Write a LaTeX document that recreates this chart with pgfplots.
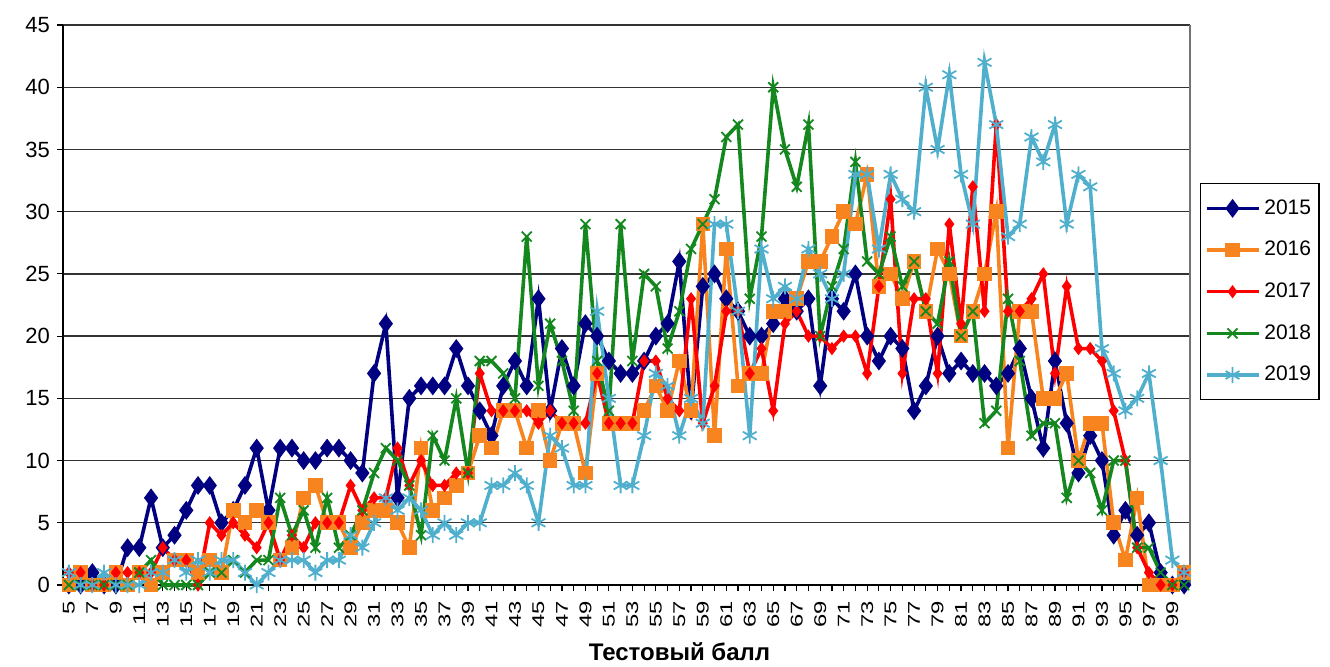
\documentclass[border=0pt]{standalone}
\usepackage{fontspec}
\setmainfont{Liberation Sans}
\usepackage{pgfplots}
\usepackage{pgfplotstable}
\pgfplotsset{compat=1.18}
\definecolor{cA}{RGB}{0,0,128}
\definecolor{cB}{RGB}{247,132,30}
\definecolor{cC}{RGB}{255,0,0}
\definecolor{cD}{RGB}{20,135,30}
\definecolor{cE}{RGB}{80,175,205}
\pgfplotstableread{
x a b c d e
5 0 0 1 0 1
6 0 1 1 0 0
7 1 0 0 0 0
8 0 0 0 0 1
9 0 1 1 0 0
10 3 0 1 0 0
11 3 1 1 1 0
12 7 0 1 2 1
13 3 1 3 0 1
14 4 2 2 0 2
15 6 2 2 0 1
16 8 1 0 0 2
17 8 2 5 1 1
18 5 1 4 1 2
19 6 6 5 2 2
20 8 5 4 1 1
21 11 6 3 2 0
22 6 5 5 2 1
23 11 2 2 7 2
24 11 3 4 4 2
25 10 7 3 6 2
26 10 8 5 3 1
27 11 5 5 7 2
28 11 5 5 3 2
29 10 3 8 4 4
30 9 5 6 6 3
31 17 6 7 9 5
32 21 6 7 11 7
33 7 5 11 10 6
34 15 3 8 8 7
35 16 11 10 4 6
36 16 6 8 12 4
37 16 7 8 10 5
38 19 8 9 15 4
39 16 9 9 9 5
40 14 12 17 18 5
41 12 11 14 18 8
42 16 14 14 17 8
43 18 14 14 15 9
44 16 11 14 28 8
45 23 14 13 16 5
46 14 10 14 21 12
47 19 13 13 18 11
48 16 13 13 14 8
49 21 9 13 29 8
50 20 17 17 18 22
51 18 13 13 14 15
52 17 13 13 29 8
53 17 13 13 18 8
54 18 14 18 25 12
55 20 16 18 24 17
56 21 14 15 19 16
57 26 18 14 22 12
58 14 14 23 27 15
59 24 29 13 29 13
60 25 12 16 31 29
61 23 27 22 36 29
62 22 16 22 37 22
63 20 17 17 23 12
64 20 17 19 28 27
65 21 22 14 40 23
66 23 22 21 35 24
67 22 23 22 32 23
68 23 26 20 37 27
69 16 26 20 20 25
70 23 28 19 24 23
71 22 30 20 27 25
72 25 29 20 34 33
73 20 33 17 26 33
74 18 24 24 25 27
75 20 25 31 28 33
76 19 23 17 24 31
77 14 26 23 26 30
78 16 22 23 22 40
79 20 27 17 21 35
80 17 25 29 26 41
81 18 20 21 20 33
82 17 22 32 22 29
83 17 25 22 13 42
84 16 30 37 14 37
85 17 11 22 23 28
86 19 22 22 18 29
87 15 22 23 12 36
88 11 15 25 13 34
89 18 15 17 13 37
90 13 17 24 7 29
91 9 10 19 10 33
92 12 13 19 9 32
93 10 13 18 6 19
94 4 5 14 10 17
95 6 2 10 10 14
96 4 7 3 3 15
97 5 0 1 3 17
98 1 0 0 1 10
99 0 0 0 0 2
100 0 1 1 0 1
}\data
\begin{document}
\begin{tikzpicture}
\path[use as bounding box] (-31.5pt,-40.5pt) rectangle (633.5pt,292.5pt);
\begin{axis}[
  at={(0,0)}, anchor=south west,
  scale only axis, width=563.5pt, height=280pt,
  xmin=4.5, xmax=100.5, ymin=0, ymax=45,
  xtick={5,7,...,99}, minor xtick={6,8,...,100},
  ytick={0,5,...,45},
  axis x line*=bottom, axis y line*=left,
  axis line style={black, line width=0.9pt},
  tick align=outside, major tick length=3pt, minor tick length=3pt,
  tick style={black, line width=0.6pt},
  x tick label style={rotate=90, xscale=1.4, anchor=east, font=\fontsize{8.5}{9}\selectfont},
  y tick label style={font=\fontsize{11}{13}\selectfont},
  /pgf/number format/assume math mode=true,
  ymajorgrids, major grid style={draw=black!80, line width=0.7pt},
  xlabel={Тестовый балл},
  xlabel style={at={(axis description cs:0.547,0)}, anchor=center, yshift=-33.5pt, font=\bfseries\fontsize{12}{14}\selectfont},
  legend style={at={(1.009,0.718)}, anchor=north west, draw=black, line width=0.6pt,
    font=\fontsize{10.5}{12}\selectfont, row sep=8pt, inner xsep=2pt, inner ysep=6pt},
  legend cell align=left,
  legend image code/.code={\draw[mark repeat=2,mark phase=2,#1] plot coordinates {(0pt,0pt) (13pt,0pt) (26pt,0pt)};},
  clip=false,
  every axis plot/.append style={line width=1.8pt, mark options={solid, line width=0.9pt}},
]
\draw[black!55, line width=0.8pt] (rel axis cs:1,0) -- (rel axis cs:1,1);
\addplot[cA, mark=diamond*, mark size=4pt] table[x=x,y=a] {\data};
\addplot[cB, mark=square*, mark size=3.2pt] table[x=x,y=b] {\data};
\addplot[cC, mark=diamond*, mark size=2.6pt] table[x=x,y=c] {\data};
\addplot[cD, mark=x, mark size=3.5pt] table[x=x,y=d] {\data};
\addplot[cE, mark=asterisk, mark size=4pt] table[x=x,y=e] {\data};
\legend{2015,2016,2017,2018,2019}
\end{axis}
\end{tikzpicture}
\end{document}
